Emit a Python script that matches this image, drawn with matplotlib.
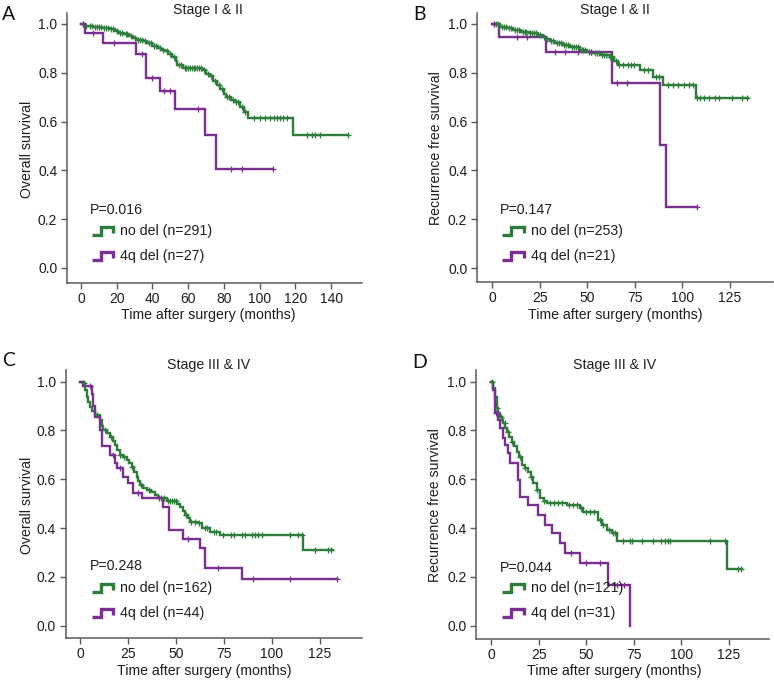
import numpy as np
import matplotlib
matplotlib.use("Agg")
import matplotlib.pyplot as plt
from matplotlib.lines import Line2D

plt.rcParams['font.family'] = ['Liberation Sans', 'DejaVu Sans']

W, H = 774, 680

# ---------------- data ----------------
# Panel A: Overall survival, Stage I & II
a_nodel_t = [2, 4, 7, 12, 16, 19, 21, 24, 27, 29, 31, 35, 37, 40, 43, 45, 47, 49, 51, 53, 54, 57,
             68, 70, 72, 74, 76, 78, 80, 81, 84, 86, 89, 91, 93.7, 118.9]
a_nodel_s = [0.993, 0.990, 0.986, 0.982, 0.978, 0.970, 0.963, 0.958, 0.950, 0.941, 0.934, 0.930,
             0.922, 0.910, 0.903, 0.895, 0.888, 0.876, 0.866, 0.848, 0.832, 0.821, 0.810, 0.797,
             0.785, 0.765, 0.750, 0.735, 0.715, 0.702, 0.690, 0.679, 0.660, 0.640, 0.615, 0.547]
a_nodel_end = 149.5
a_nodel_cens = [1, 3, 5, 6, 8, 9, 10, 11, 13, 14, 15, 17, 18, 20, 22, 23, 25, 26, 28, 30, 32, 33, 34,
                36, 38, 39, 41, 42, 44, 46, 48, 50, 52, 55, 56, 58, 59, 60, 61, 62, 63, 64, 65, 66, 67,
                69, 71, 73, 75, 77, 79, 82, 83, 85, 87, 88, 90, 92, 96.7, 100.4, 103.2, 106, 108,
                109.7, 111.6, 113, 115.3, 126.3, 129.2, 131, 133.8, 149.3]
a_del_t = [2.2, 12.5, 31.0, 36.5, 44.2, 52.4, 69.2, 75.8]
a_del_s = [0.962, 0.921, 0.875, 0.777, 0.724, 0.651, 0.545, 0.406]
a_del_end = 107.3
a_del_cens = [1, 6.5, 18.7, 34, 40, 46.6, 49.8, 65.7, 84, 90.3, 107.3]

# Panel B: Recurrence free survival, Stage I & II
b_nodel_t = [4, 8, 11, 15, 19.8, 24, 26.8, 28.5, 30.3, 33, 37.3, 41, 46.1, 50, 53, 57, 61.8, 64,
             66.2, 77.6, 84.6, 89.8, 107]
b_nodel_s = [0.989, 0.982, 0.975, 0.968, 0.962, 0.955, 0.948, 0.940, 0.930, 0.922, 0.914, 0.905,
             0.893, 0.886, 0.880, 0.873, 0.866, 0.850, 0.832, 0.811, 0.784, 0.750, 0.698]
b_nodel_end = 134.5
b_nodel_cens = [1, 2, 3, 5, 6, 7, 9, 10, 12, 13, 14, 16, 17, 18, 20, 21, 22, 23, 25, 27, 29, 31, 32,
                34, 35, 36, 38, 39, 40, 42, 43, 44, 45, 47, 48, 49, 51, 52, 54, 55, 56, 58, 59, 60,
                62, 63, 65, 66.9, 68.6, 71.3, 73, 74.7, 80, 82, 86, 88, 92.4, 95, 97.6, 101.1,
                103.8, 105.5, 107.8, 109.5, 111.3, 113.9, 117.4, 119.2, 126.2, 131.4, 134.1]
b_del_t = [3.4, 28.2, 63.2, 88.2, 91.4]
b_del_s = [0.948, 0.884, 0.760, 0.504, 0.251]
b_del_end = 107.5
b_del_cens = [1, 12.8, 18.1, 32.9, 38.2, 45.2, 52, 65.5, 70.7, 107.5]

# Panel C: Overall survival, Stage III & IV
c_nodel_t = [1.7, 2.5, 3.5, 4.3, 5.2, 6.5, 7.8, 10.4, 11.3, 12.2, 14, 15.6, 17, 18.2, 19.5, 20.8,
             22.5, 24.3, 25.5, 26.9, 28.2, 29.5, 30.4, 31.3, 33, 34.7, 37, 39.1, 40.8, 45.2, 50.5,
             52.1, 53.4, 54.7, 56, 57.3, 61.6, 63.4, 67.7, 72.9, 116.3]
c_nodel_s = [0.993, 0.965, 0.939, 0.918, 0.898, 0.880, 0.864, 0.843, 0.820, 0.802, 0.790, 0.775,
             0.758, 0.741, 0.720, 0.700, 0.690, 0.679, 0.665, 0.652, 0.630, 0.611, 0.594, 0.577,
             0.566, 0.556, 0.546, 0.536, 0.522, 0.511, 0.500, 0.488, 0.470, 0.454, 0.440, 0.426,
             0.420, 0.399, 0.385, 0.372, 0.310]
c_nodel_end = 131.6
c_nodel_cens = [2, 9, 13, 16, 21, 23, 27, 32, 36, 42, 44, 46, 47, 48, 49, 50, 55, 58, 60, 62, 65,
                66, 70, 71, 74.6, 78.9, 80.3, 84.2, 85.9, 89.4, 91.1, 92.9, 94.6, 109.3, 113.7,
                115.4, 122.4, 129.3, 130.6]
c_del_t = [1.5, 6.3, 7.0, 7.8, 10.4, 11.3, 15.6, 18.2, 19.1, 22.4, 25.2, 27.8, 32.1, 43.4, 46.5,
           53.8, 62.5, 65.1, 84.2]
c_del_s = [0.984, 0.950, 0.900, 0.856, 0.800, 0.736, 0.700, 0.665, 0.645, 0.610, 0.583, 0.543,
           0.522, 0.488, 0.390, 0.355, 0.317, 0.238, 0.190]
c_del_end = 133.7
c_del_cens = [5.2, 17, 21, 30, 41, 56.4, 72.1, 90.3, 109.4, 133.7]

# Panel D: Recurrence free survival, Stage III & IV
d_nodel_t = [1.0, 1.9, 2.8, 3.7, 4.6, 5.5, 6.3, 7.2, 8.1, 9.4, 10.7, 12, 13.4, 14.7, 16, 17.8,
             19.5, 20.8, 22.1, 23.9, 25.6, 27.5, 29.2, 39.7, 46.7, 48.4, 56.3, 58.1, 60.7, 63.4,
             66, 123.9]
d_nodel_s = [0.975, 0.939, 0.891, 0.870, 0.857, 0.843, 0.830, 0.810, 0.795, 0.775, 0.754, 0.735,
             0.713, 0.690, 0.659, 0.645, 0.631, 0.610, 0.584, 0.556, 0.522, 0.512, 0.504, 0.495,
             0.483, 0.467, 0.433, 0.413, 0.392, 0.379, 0.347, 0.231]
d_nodel_end = 131.8
d_nodel_cens = [0.5, 3, 5, 7, 9, 11, 15, 18, 21, 24, 28, 31, 33, 35, 37, 41, 43, 45, 47, 50, 52, 54,
                57, 59, 62, 64, 65, 69.5, 73, 74.2, 79.1, 85.3, 89.6, 91.4, 93.1, 94, 115.1, 123,
                130, 131.5]
d_del_t = [1.0, 1.9, 3.7, 4.6, 6.3, 7.2, 8.9, 9.8, 14.2, 15.2, 19.5, 24.7, 28.2, 31.7, 36, 38.7,
           46.7, 61.6, 73.2]
d_del_s = [0.968, 0.870, 0.843, 0.809, 0.768, 0.740, 0.706, 0.666, 0.597, 0.529, 0.495, 0.454,
           0.413, 0.379, 0.338, 0.297, 0.256, 0.167, 0.0]
d_del_end = 73.2
d_del_cens = [2.5, 42, 50, 57.4, 66, 70]

panel_letters = ["A", "B", "C", "D"]
panel_titles = ["Stage I & II", "Stage I & II", "Stage III & IV", "Stage III & IV"]
panel_ylabels = ["Overall survival", "Recurrence free survival", "Overall survival",
                 "Recurrence free survival"]
xlabel_text = "Time after surgery (months)"
p_values = ["P=0.016", "P=0.147", "P=0.248", "P=0.044"]
legend_nodel = ["no del (n=291)", "no del (n=253)", "no del (n=162)", "no del (n=121)"]
legend_del = ["4q del (n=27)", "4q del (n=21)", "4q del (n=44)", "4q del (n=31)"]
xticks_list = [[0, 20, 40, 60, 80, 100, 120, 140], [0, 25, 50, 75, 100, 125],
               [0, 25, 50, 75, 100, 125], [0, 25, 50, 75, 100, 125]]
yticks = [0.0, 0.2, 0.4, 0.6, 0.8, 1.0]

GREEN = "#2e7d3c"
PURPLE = "#7a3090"
SPINE = "#5a5a5a"
TXT = "#1e1e1e"
FS = 10.2

# ---------------- layout (pixels) ----------------
layout = [
    dict(box=(67, 362, 13, 283), xlim=(-7.8, 157.3), ylim=(-0.0615, 1.045),
         title_x=208, title_y=10, letter=(2, 14), ylab_x=27, xlab=(208, 315),
         p=(90, 210), rows=(231, 256), icon_x=91.5, text_x=120),
    dict(box=(477, 773.5, 13, 282), xlim=(-8.0, 148.0), ylim=(-0.057, 1.045),
         title_x=615, title_y=10, letter=(413, 14), ylab_x=436, xlab=(615, 315),
         p=(500, 210), rows=(231, 256), icon_x=502, text_x=531),
    dict(box=(65.7, 362, 370, 638.3), xlim=(-7.45, 146.9), ylim=(-0.052, 1.048),
         title_x=209, title_y=365.5, letter=(2, 360), ylab_x=27, xlab=(204, 671.5),
         p=(90, 566.5), rows=(588, 613), icon_x=91.5, text_x=120),
    dict(box=(476.3, 769, 370, 639), xlim=(-7.9, 146.2), ylim=(-0.055, 1.048),
         title_x=615, title_y=365.5, letter=(412, 362), ylab_x=435, xlab=(614, 671.5),
         p=(500, 567.5), rows=(588, 613), icon_x=502, text_x=531),
]

series = [
    ((a_nodel_t, a_nodel_s, a_nodel_end, a_nodel_cens), (a_del_t, a_del_s, a_del_end, a_del_cens)),
    ((b_nodel_t, b_nodel_s, b_nodel_end, b_nodel_cens), (b_del_t, b_del_s, b_del_end, b_del_cens)),
    ((c_nodel_t, c_nodel_s, c_nodel_end, c_nodel_cens), (c_del_t, c_del_s, c_del_end, c_del_cens)),
    ((d_nodel_t, d_nodel_s, d_nodel_end, d_nodel_cens), (d_del_t, d_del_s, d_del_end, d_del_cens)),
]


def fx(px):
    return px / W


def fy(py):
    return 1 - py / H


def draw_km(ax, t, s, end, cens, color):
    x = [0.0] + list(t) + [end]
    y = [1.0] + list(s) + [s[-1]]
    ax.step(x, y, where="post", color=color, lw=1.7, solid_joinstyle="miter", zorder=3)
    tt = np.array(t)
    ss = np.array(s)
    cy = []
    for c in cens:
        idx = np.searchsorted(tt, c, side="right") - 1
        cy.append(1.0 if idx < 0 else ss[idx])
    ax.plot(cens, cy, linestyle="none", marker="+", ms=5, mew=0.9, color=color, zorder=4)


def draw_icon(fig, x0, yc, color):
    w, h = 21.5, 7.5
    yb = yc + h / 2
    yt = yc - h / 2
    xs = [x0, x0 + 0.42 * w, x0 + 0.42 * w, x0 + w, x0 + w]
    ys = [yb, yb, yt, yt, yb - 1.5]
    fig.add_artist(Line2D([fx(v) for v in xs], [fy(v) for v in ys], color=color, lw=2.4,
                          solid_joinstyle="miter", solid_capstyle="butt",
                          transform=fig.transFigure))


fig = plt.figure(figsize=(W / 100, H / 100), dpi=100)

for i, L in enumerate(layout):
    l, r, t, b = L["box"]
    ax = fig.add_axes([fx(l), fy(b), (r - l) / W, (b - t) / H])
    (g, p) = series[i]
    draw_km(ax, *g, GREEN)
    draw_km(ax, *p, PURPLE)
    ax.set_xlim(*L["xlim"])
    ax.set_ylim(*L["ylim"])
    ax.set_xticks(xticks_list[i])
    ax.set_yticks(yticks)
    ax.set_yticklabels([f"{v:.1f}" for v in yticks])
    for sp in ["top", "right"]:
        ax.spines[sp].set_visible(False)
    for sp in ["left", "bottom"]:
        ax.spines[sp].set_color(SPINE)
        ax.spines[sp].set_linewidth(1.1)
    ax.tick_params(axis="both", direction="out", length=4.5, width=1.0, color=SPINE,
                   labelsize=10, labelcolor=TXT, pad=2.5)
    ax.tick_params(axis="x", pad=1.8)
    fig.text(fx(L["title_x"]), fy(L["title_y"]), panel_titles[i], ha="center", va="center",
             fontsize=FS, color=TXT)
    fig.text(fx(L["letter"][0]), fy(L["letter"][1]), panel_letters[i], ha="left", va="center",
             fontsize=14, color="#111111", family=["Lato", "DejaVu Sans"])
    fig.text(fx(L["ylab_x"]), fy((t + b) / 2 + 1), panel_ylabels[i], ha="center", va="center",
             rotation=90, fontsize=FS, color=TXT)
    fig.text(fx(L["xlab"][0]), fy(L["xlab"][1]), xlabel_text, ha="center", va="center",
             fontsize=FS, color=TXT)
    fig.text(fx(L["p"][0]), fy(L["p"][1]), p_values[i], ha="left", va="center",
             fontsize=FS, color=TXT)
    draw_icon(fig, L["icon_x"], L["rows"][0], GREEN)
    draw_icon(fig, L["icon_x"], L["rows"][1], PURPLE)
    fig.text(fx(L["text_x"]), fy(L["rows"][0]), legend_nodel[i], ha="left", va="center",
             fontsize=FS, color=TXT)
    fig.text(fx(L["text_x"]), fy(L["rows"][1]), legend_del[i], ha="left", va="center",
             fontsize=FS, color=TXT)

fig.savefig("out.png", dpi=100, facecolor="white")
